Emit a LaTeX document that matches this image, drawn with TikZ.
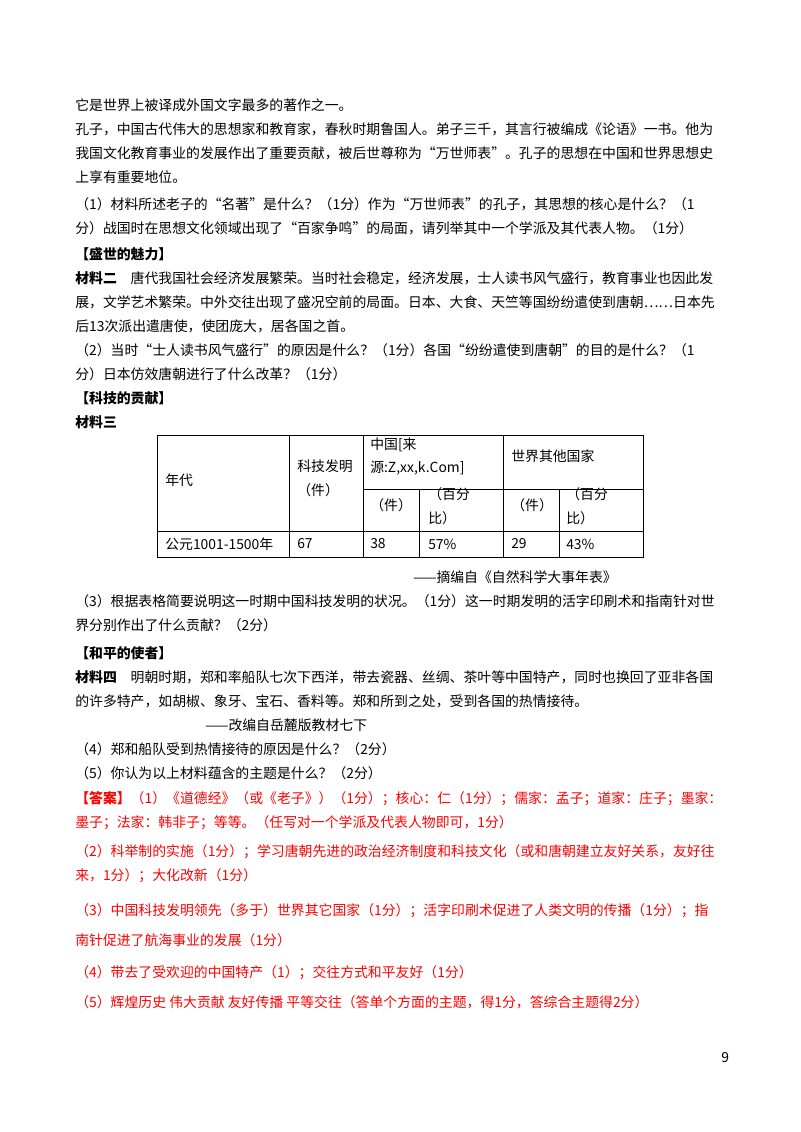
\documentclass[tikz,border=0pt]{standalone}
\usepackage{fontspec}
\setmainfont{Liberation Serif}
\newfontfamily\cjk{Noto Sans CJK SC}
\begin{document}
\begin{tikzpicture}[x=0.75pt,y=-0.75pt,
  t/.style={anchor=west,inner sep=0pt,font=\cjk\fontsize{10.4}{12}\selectfont},
  r/.style={t,text=red},
  b/.style={t,font=\cjk\bfseries\fontsize{10.4}{12}\selectfont}]
\useasboundingbox[fill=white] (0,0) rectangle (800,1132);
\node[t] (l1) at (75,105) {它是世界上被译成外国文字最多的著作之一。};
\node[t] (l2) at (75,129) {孔子，中国古代伟大的思想家和教育家，春秋时期鲁国人。弟子三千，其言行被编成《论语》一书。他为};
\node[t] (l3) at (75,153) {我国文化教育事业的发展作出了重要贡献，被后世尊称为“万世师表”。孔子的思想在中国和世界思想史};
\node[t] (l4) at (75,177) {上享有重要地位。};
\node[t] (l5) at (75,204) {（1）材料所述老子的“名著”是什么？（1分）作为“万世师表”的孔子，其思想的核心是什么？（1};
\node[t] (l6) at (75,228) {分）战国时在思想文化领域出现了“百家争鸣”的局面，请列举其中一个学派及其代表人物。（1分）};
\node[b] (h1) at (75,254) {【盛世的魅力】};
\node[t] (l7) at (75,278) {{\bfseries 材料二}\quad 唐代我国社会经济发展繁荣。当时社会稳定，经济发展，士人读书风气盛行，教育事业也因此发};
\node[t] (l8) at (75,302) {展，文学艺术繁荣。中外交往出现了盛况空前的局面。日本、大食、天竺等国纷纷遣使到唐朝……日本先};
\node[t] (l9) at (75,326) {后13次派出遣唐使，使团庞大，居各国之首。};
\node[t] (l10) at (75,350) {（2）当时“士人读书风气盛行”的原因是什么？（1分）各国“纷纷遣使到唐朝”的目的是什么？（1};
\node[t] (l11) at (75,374) {分）日本仿效唐朝进行了什么改革？（1分）};
\node[b] (h2) at (75,398) {【科技的贡献】};
\node[b] (h3) at (75,422) {材料三};
% table
\draw[line width=0.6pt] (157,435) rectangle (643,557);
\draw[line width=0.6pt] (157,531) -- (643,531);
\draw[line width=0.6pt] (363,489) -- (643,489);
\foreach \x in {289,363,503} \draw[line width=0.6pt] (\x,435) -- (\x,557);
\foreach \x in {419,559} \draw[line width=0.6pt] (\x,489) -- (\x,557);
\node[t] (c1) at (165,480) {年代};
\node[t] (c2) at (297,466) {科技发明};
\node[t] (c3) at (297,490) {（件）};
\node[t] (c4) at (370,445) {中国[来};
\node[t] (c5) at (370,468) {源:Z,xx,k.Com]};
\node[t] (c6) at (511,456) {世界其他国家};
\node[t] (c7) at (370,505) {（件）};
\node[t] (c8) at (428,494) {（百分};
\node[t] (c9) at (428,518) {比）};
\node[t] (c10) at (511,505) {（件）};
\node[t] (c11) at (566,494) {（百分};
\node[t] (c12) at (566,518) {比）};
\node[t] (d1) at (165,544) {公元1001-1500年};
\node[t] (d2) at (297,544) {67};
\node[t] (d3) at (370,544) {38};
\node[t] (d4) at (428,544) {57\%};
\node[t] (d5) at (511,544) {29};
\node[t] (d6) at (566,544) {43\%};
\node[t] (s1) at (413,577) {——摘编自《自然科学大事年表》};
\node[t] (l12) at (75,601) {（3）根据表格简要说明这一时期中国科技发明的状况。（1分）这一时期发明的活字印刷术和指南针对世};
\node[t] (l13) at (75,625) {界分别作出了什么贡献？（2分）};
\node[b] (h4) at (75,653) {【和平的使者】};
\node[t] (l14) at (75,677) {{\bfseries 材料四}\quad 明朝时期，郑和率船队七次下西洋，带去瓷器、丝绸、茶叶等中国特产，同时也换回了亚非各国};
\node[t] (l15) at (75,701) {的许多特产，如胡椒、象牙、宝石、香料等。郑和所到之处，受到各国的热情接待。};
\node[t] (s2) at (205,725) {——改编自岳麓版教材七下};
\node[t] (l16) at (75,749) {（4）郑和船队受到热情接待的原因是什么？（2分）};
\node[t] (l17) at (75,773) {（5）你认为以上材料蕴含的主题是什么？（2分）};
\node[r] (a1) at (75,799) {{\bfseries 【答案】}（1）《道德经》（或《老子》）（1分）；核心：仁（1分）；儒家：孟子；道家：庄子；墨家：};
\node[r] (a2) at (75,823) {墨子；法家：韩非子；等等。（任写对一个学派及代表人物即可，1分）};
\node[r] (a3) at (75,852) {（2）科举制的实施（1分）；学习唐朝先进的政治经济制度和科技文化（或和唐朝建立友好关系，友好往};
\node[r] (a4) at (75,876) {来，1分）；大化改新（1分）};
\node[r] (a5) at (75,911) {（3）中国科技发明领先（多于）世界其它国家（1分）；活字印刷术促进了人类文明的传播（1分）；指};
\node[r] (a6) at (75,940) {南针促进了航海事业的发展（1分）};
\node[r] (a7) at (75,973) {（4）带去了受欢迎的中国特产（1）；交往方式和平友好（1分）};
\node[r] (a8) at (75,1002) {（5）辉煌历史 伟大贡献 友好传播 平等交往（答单个方面的主题，得1分，答综合主题得2分）};
\node[t] (pg) at (721,1058) {9};
\end{tikzpicture}
\end{document}
